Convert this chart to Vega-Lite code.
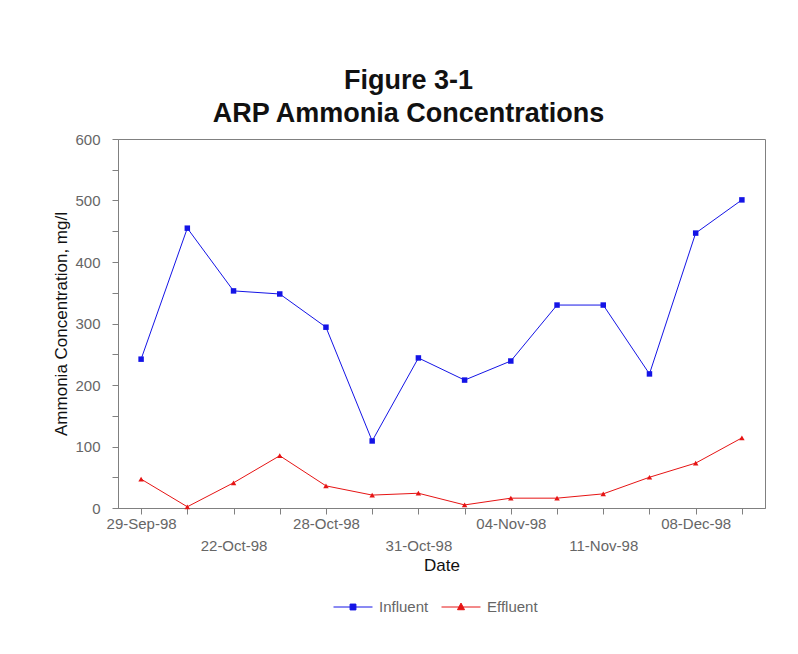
{
  "$schema": "https://vega.github.io/schema/vega-lite/v6.json",
  "autosize": "none",
  "width": 647,
  "height": 369,
  "padding": {"left": 118, "top": 139, "right": 33, "bottom": 146},
  "background": "white",
  "title": {
    "text": ["Figure 3-1", "ARP Ammonia Concentrations"],
    "font": "Liberation Sans",
    "fontSize": 27,
    "fontWeight": "bold",
    "color": "#111111",
    "anchor": "middle",
    "frame": "group",
    "dx": -33,
    "lineHeight": 33,
    "offset": 4
  },
  "data": {
    "values": [
      {"date": "29-Sep-98", "series": "Influent", "value": 242},
      {"date": "15-Oct-98", "series": "Influent", "value": 455},
      {"date": "22-Oct-98", "series": "Influent", "value": 353},
      {"date": "26-Oct-98", "series": "Influent", "value": 348},
      {"date": "28-Oct-98", "series": "Influent", "value": 294},
      {"date": "29-Oct-98", "series": "Influent", "value": 109},
      {"date": "31-Oct-98", "series": "Influent", "value": 244},
      {"date": "02-Nov-98", "series": "Influent", "value": 208},
      {"date": "04-Nov-98", "series": "Influent", "value": 239},
      {"date": "09-Nov-98", "series": "Influent", "value": 330},
      {"date": "11-Nov-98", "series": "Influent", "value": 330},
      {"date": "02-Dec-98", "series": "Influent", "value": 218},
      {"date": "08-Dec-98", "series": "Influent", "value": 447},
      {"date": "14-Dec-98", "series": "Influent", "value": 501},
      {"date": "29-Sep-98", "series": "Effluent", "value": 47},
      {"date": "15-Oct-98", "series": "Effluent", "value": 2},
      {"date": "22-Oct-98", "series": "Effluent", "value": 41},
      {"date": "26-Oct-98", "series": "Effluent", "value": 85},
      {"date": "28-Oct-98", "series": "Effluent", "value": 36},
      {"date": "29-Oct-98", "series": "Effluent", "value": 21},
      {"date": "31-Oct-98", "series": "Effluent", "value": 24},
      {"date": "02-Nov-98", "series": "Effluent", "value": 5},
      {"date": "04-Nov-98", "series": "Effluent", "value": 16},
      {"date": "09-Nov-98", "series": "Effluent", "value": 16},
      {"date": "11-Nov-98", "series": "Effluent", "value": 23},
      {"date": "02-Dec-98", "series": "Effluent", "value": 50},
      {"date": "08-Dec-98", "series": "Effluent", "value": 73},
      {"date": "14-Dec-98", "series": "Effluent", "value": 114}
    ]
  },
  "encoding": {
    "x": {
      "field": "date",
      "type": "ordinal",
      "sort": null,
      "scale": {"type": "point", "padding": 0.5},
      "axis": {
        "title": "Date",
        "labelAngle": 0,
        "labelOverlap": false,
        "labelBound": false,
        "labelFlush": false,
        "labelExpr": "indexof(['22-Oct-98','31-Oct-98','11-Nov-98'], datum.value) >= 0 ? ['', datum.value] : (indexof(['29-Sep-98','28-Oct-98','04-Nov-98','08-Dec-98'], datum.value) >= 0 ? datum.value : '')",
        "labelLineHeight": 22,
        "labelBaseline": "top",
        "labelPadding": 2,
        "tickSize": 6,
        "titlePadding": 4
      }
    },
    "y": {
      "field": "value",
      "type": "quantitative",
      "scale": {"domain": [0, 600], "nice": false},
      "axis": {
        "title": "Ammonia Concentration, mg/l",
        "values": [0, 50, 100, 150, 200, 250, 300, 350, 400, 450, 500, 550, 600],
        "labelExpr": "datum.value % 100 === 0 ? datum.label : ''",
        "grid": false,
        "tickSize": 6,
        "labelPadding": 12,
        "titlePadding": 4
      }
    },
    "color": {
      "field": "series",
      "type": "nominal",
      "sort": ["Influent", "Effluent"],
      "scale": {"domain": ["Influent", "Effluent"], "range": ["#1414e6", "#e61414"]},
      "legend": {
        "title": null,
        "orient": "none",
        "direction": "horizontal",
        "legendX": 215,
        "legendY": 448,
        "symbolSize": 1521,
        "symbolStrokeWidth": 1,
        "labelOffset": 6,
        "columnPadding": 10,
        "labelFont": "Liberation Sans",
        "labelFontSize": 15,
        "labelColor": "#666666",
        "encode": {
          "symbols": {
            "update": {
              "shape": {"signal": "datum.value === 'Influent' ? 'M-1,0H1M-0.15,-0.15H0.15V0.15H-0.15Z' : 'M-1,0H1M0,-0.2L0.18,0.14H-0.18Z'"},
              "fill": {"scale": "color", "field": "value"},
              "stroke": {"scale": "color", "field": "value"},
              "strokeWidth": {"value": 1}
            }
          }
        }
      }
    }
  },
  "layer": [
    {"mark": {"type": "line", "strokeWidth": 1}},
    {
      "transform": [{"filter": "datum.series === 'Influent'"}],
      "mark": {"type": "point", "filled": true, "size": 30, "opacity": 1, "shape": "square"}
    },
    {
      "transform": [{"filter": "datum.series === 'Effluent'"}],
      "mark": {"type": "point", "filled": true, "size": 30, "opacity": 1, "shape": "triangle-up"}
    }
  ],
  "config": {
    "font": "Liberation Sans",
    "view": {"stroke": "#808080", "strokeWidth": 1},
    "axis": {
      "domainColor": "#808080",
      "tickColor": "#808080",
      "labelColor": "#666666",
      "labelFont": "Liberation Sans",
      "labelFontSize": 15,
      "titleFont": "Liberation Sans",
      "titleFontSize": 17,
      "titleFontWeight": "normal",
      "titleColor": "#111111"
    }
  }
}
